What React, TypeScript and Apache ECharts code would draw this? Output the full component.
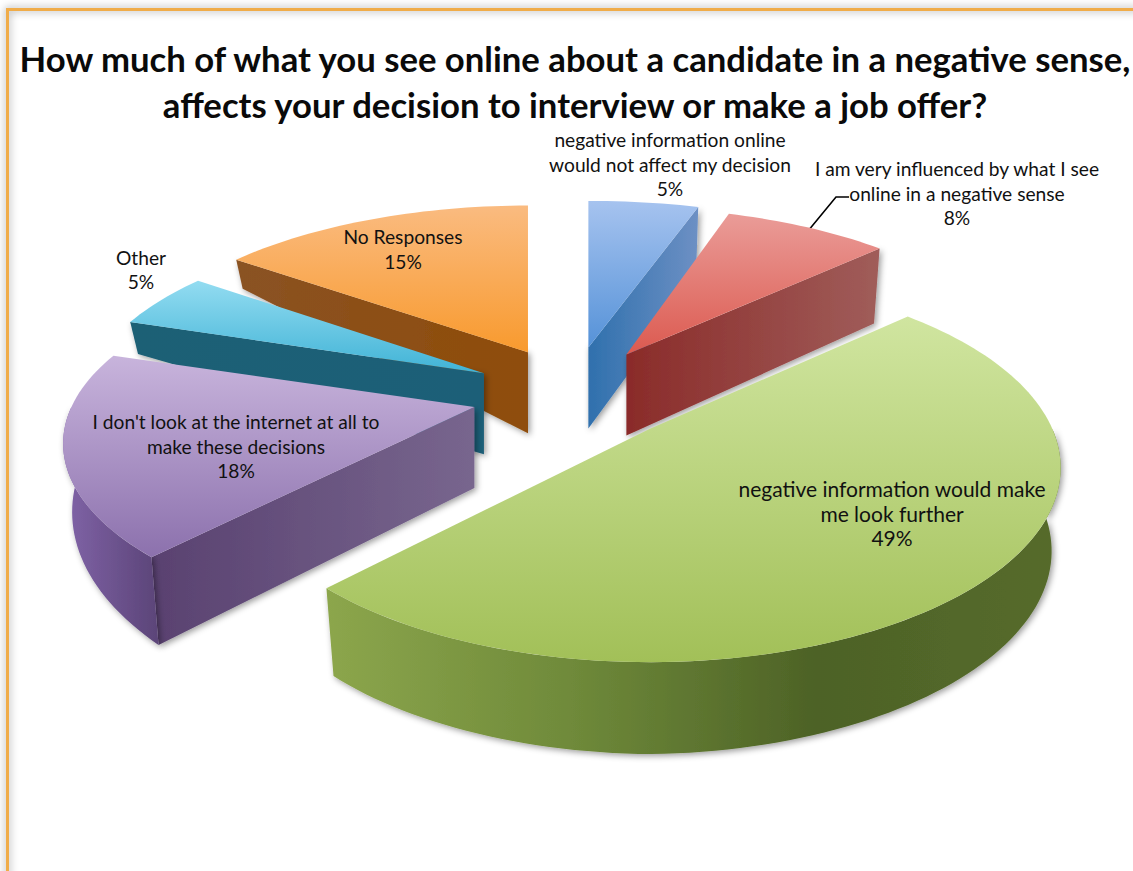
import React, { useEffect, useRef } from "react";
import * as echarts from "echarts";

const titleLines = [
  "How much of what you see online about a candidate in a negative sense,",
  "affects your decision to interview or make a job offer?",
];
const categories = [
  "negative information online\nwould not affect my decision",
  "I am very influenced by what I see\nonline in a negative sense",
  "negative information would make\nme look further",
  "I don't look at the internet at all to\nmake these decisions",
  "Other",
  "No Responses",
];
const percentValues = [5, 8, 49, 18, 5, 15];

// Label centres and sizes, one per slice
const labelCentres = [
  [670, 164],
  [957, 193],
  [892, 513],
  [236, 446],
  [141, 269.5],
  [403, 249],
];
const labelSizes = [19.2, 19.2, 21, 19.2, 19.2, 19.2];
const leaderLine = [
  [808, 231],
  [836, 197],
  [849, 197],
];

// Painter's order: back slices first, the large front slice last
const paintRank = [2, 3, 5, 4, 1, 0];

// Horizontal and vertical reach of each slice relative to the pie radius
const reachX = [1.05, 0.98, 1, 1, 0.98, 1];
const reachY = [1, 1, 1.06, 1, 1, 1];
// Extra sideways shift of each slice's apex
const apexShift = [0, 0, 0, 6, 3, 0];

type Palette = { top: string[]; face: string[]; rim: string[] };
const palettes: Palette[] = [
  { top: ["#a6c3ef", "#5592d8"], face: ["#2f70ad", "#6d90c4"], rim: ["#4a7ab5", "#4a7ab5"] },
  { top: ["#ea9c98", "#dc5a50"], face: ["#8a2b29", "#a05d5a"], rim: ["#8a2b29", "#8a2b29"] },
  { top: ["#d0e5a0", "#a2c058"], face: ["#7f9a40", "#7f9a40"], rim: ["#8ca64c", "#6f8a3a", "#4d6226", "#566b2c"] },
  { top: ["#c8b4dc", "#8c71ad"], face: ["#594170", "#78668e"], rim: ["#8164a8", "#5b4478"] },
  { top: ["#93dcf1", "#40b3d6"], face: ["#1d6075", "#1f5f78"], rim: ["#1d6075", "#1d6075"] },
  { top: ["#fabb80", "#f89a2e"], face: ["#8a5224", "#8f4d08"], rim: ["#8f4d08", "#8f4d08"] },
];

// Pie camera model
const centreX = 573;
const centreY = 395;
const explodeX = 108;
const explodeY = 48;
const radiusX = 403;
const radiusY = 176;
const perspective = 0.2;
const lowerShrink = 0.978;
const apexDepth = 81;
// Side height along the rim, by clockwise angle from twelve o'clock
const rimDepthStops = [
  [0, 75], [47, 75], [90, 82], [180, 92], [223, 88], [270, 62], [288, 32], [306, 29], [330, 50], [360, 75],
];

const TAU = Math.PI * 2;

function rimDepth(theta: number) {
  const deg = (theta * 360) / TAU;
  for (let i = 1; i < rimDepthStops.length; i++) {
    const [a0, d0] = rimDepthStops[i - 1];
    const [a1, d1] = rimDepthStops[i];
    if (deg <= a1) return d0 + ((d1 - d0) * (deg - a0)) / (a1 - a0);
  }
  return rimDepthStops[rimDepthStops.length - 1][1];
}

// Projects a rim point of slice i; lower = 0 is the top face, lower = 1 the bottom face
function project(i: number, ax: number, ay: number, theta: number, lower: number) {
  const X = Math.sin(theta);
  const Y = Math.cos(theta);
  const f = 1 / (1 + perspective * Y);
  const shrink = 1 - (1 - lowerShrink) * lower;
  return [
    ax + radiusX * reachX[i] * X * f * shrink,
    ay - radiusY * reachY[i] * Y * f + rimDepth(theta) * lower,
  ];
}

function arcPoints(i: number, ax: number, ay: number, a0: number, a1: number, lower: number) {
  const pts: number[][] = [];
  const steps = Math.max(2, Math.ceil(((a1 - a0) / TAU) * 240));
  for (let k = 0; k <= steps; k++) pts.push(project(i, ax, ay, a0 + ((a1 - a0) * k) / steps, lower));
  return pts;
}

function ramp(colors: string[], x2: number, y2: number) {
  return new echarts.graphic.LinearGradient(
    0, 0, x2, y2,
    colors.map((color, k) => ({ offset: k / (colors.length - 1), color })),
  );
}

const cumulative = percentValues.map((_, i) => percentValues.slice(0, i).reduce((s, v) => s + v, 0));
const total = percentValues.reduce((s, v) => s + v, 0);

const sideShadow = { shadowBlur: 6, shadowColor: "rgba(0,0,0,0.4)", shadowOffsetX: 2, shadowOffsetY: 2 };

function renderSlice(params: any, api: any) {
  const i = params.dataIndex;
  const value = api.value(0);
  const a0 = (cumulative[i] / total) * TAU;
  const a1 = ((cumulative[i] + value) / total) * TAU;
  const mid = (a0 + a1) / 2;
  // Slices pulled towards the back travel a little less on screen
  const travel = 1 / (1 + 0.1 * Math.max(Math.cos(mid), 0));
  const ax = centreX + explodeX * travel * Math.sin(mid) + apexShift[i];
  const ay = centreY - explodeY * Math.cos(mid);
  const pal = palettes[i];
  const rank = paintRank[i] * 10;
  const children: any[] = [];

  const face = (angle: number, z2: number) => {
    const outerTop = project(i, ax, ay, angle, 0);
    const outerLow = project(i, ax, ay, angle, 1);
    children.push({
      type: "polygon",
      z2,
      shape: { points: [[ax, ay], outerTop, outerLow, [ax, ay + apexDepth]] },
      style: { fill: ramp(pal.face, 1, 0), ...sideShadow },
    });
  };
  if (Math.sin(a0) < 0) face(a0, rank + 1);
  if (Math.sin(a1) > 0) face(a1, rank + 1);

  // Outer wall, only where it turns towards the viewer
  const r0 = Math.max(a0, TAU / 4);
  const r1 = Math.min(a1, (TAU * 3) / 4);
  if (r1 > r0) {
    const upper = arcPoints(i, ax, ay, r0, r1, 0);
    const lower = arcPoints(i, ax, ay, r0, r1, 1).reverse();
    children.push({
      type: "polygon",
      z2: rank + 2,
      shape: { points: [...upper, ...lower] },
      style: { fill: ramp(pal.rim, 1, 0), ...sideShadow },
    });
  }

  children.push({
    type: "polygon",
    z2: rank + 3,
    shape: { points: [[ax, ay], ...arcPoints(i, ax, ay, a0, a1, 0)] },
    style: { fill: ramp(pal.top, 0, 1) },
  });

  children.push({
    type: "text",
    z2: 200,
    style: {
      text: `${categories[i]}\n${value}%`,
      x: labelCentres[i][0],
      y: labelCentres[i][1],
      align: "center",
      verticalAlign: "middle",
      fontFamily: "Lato",
      fontSize: labelSizes[i],
      lineHeight: 24.5,
      fill: "#111111",
    },
  });

  return { type: "group", children };
}

export default function App() {
  const host = useRef<HTMLDivElement>(null);

  useEffect(() => {
    document.body.style.margin = "0";
    document.body.style.background = "#ffffff";
    const chart = echarts.init(host.current!, undefined, { renderer: "svg" });
    chart.setOption({
      animation: false,
      backgroundColor: "#ffffff",
      title: {
        text: titleLines.join("\n"),
        left: 570,
        top: 30,
        textAlign: "center",
        textStyle: { fontFamily: "Lato", fontWeight: "bold", fontSize: 34.7, lineHeight: 46, color: "#0a0a0a" },
      },
      series: [
        {
          type: "custom",
          coordinateSystem: "none",
          silent: true,
          data: percentValues.map((v) => [v]),
          renderItem: renderSlice,
        },
      ],
      graphic: [
        {
          type: "polyline",
          z: -1,
          silent: true,
          shape: { points: [[7.5, 880], [7.5, 9.5], [1140, 9.5]] },
          style: {
            fill: "none",
            stroke: "#f0ac48",
            lineWidth: 3,
            shadowBlur: 9,
            shadowColor: "rgba(0,0,0,0.45)",
          },
        },
        {
          type: "polyline",
          silent: true,
          shape: { points: leaderLine },
          style: { fill: "none", stroke: "#000000", lineWidth: 1.6 },
        },
      ],
    });
    return () => chart.dispose();
  }, []);

  return <div ref={host} style={{ width: 1133, height: 871 }} />;
}
